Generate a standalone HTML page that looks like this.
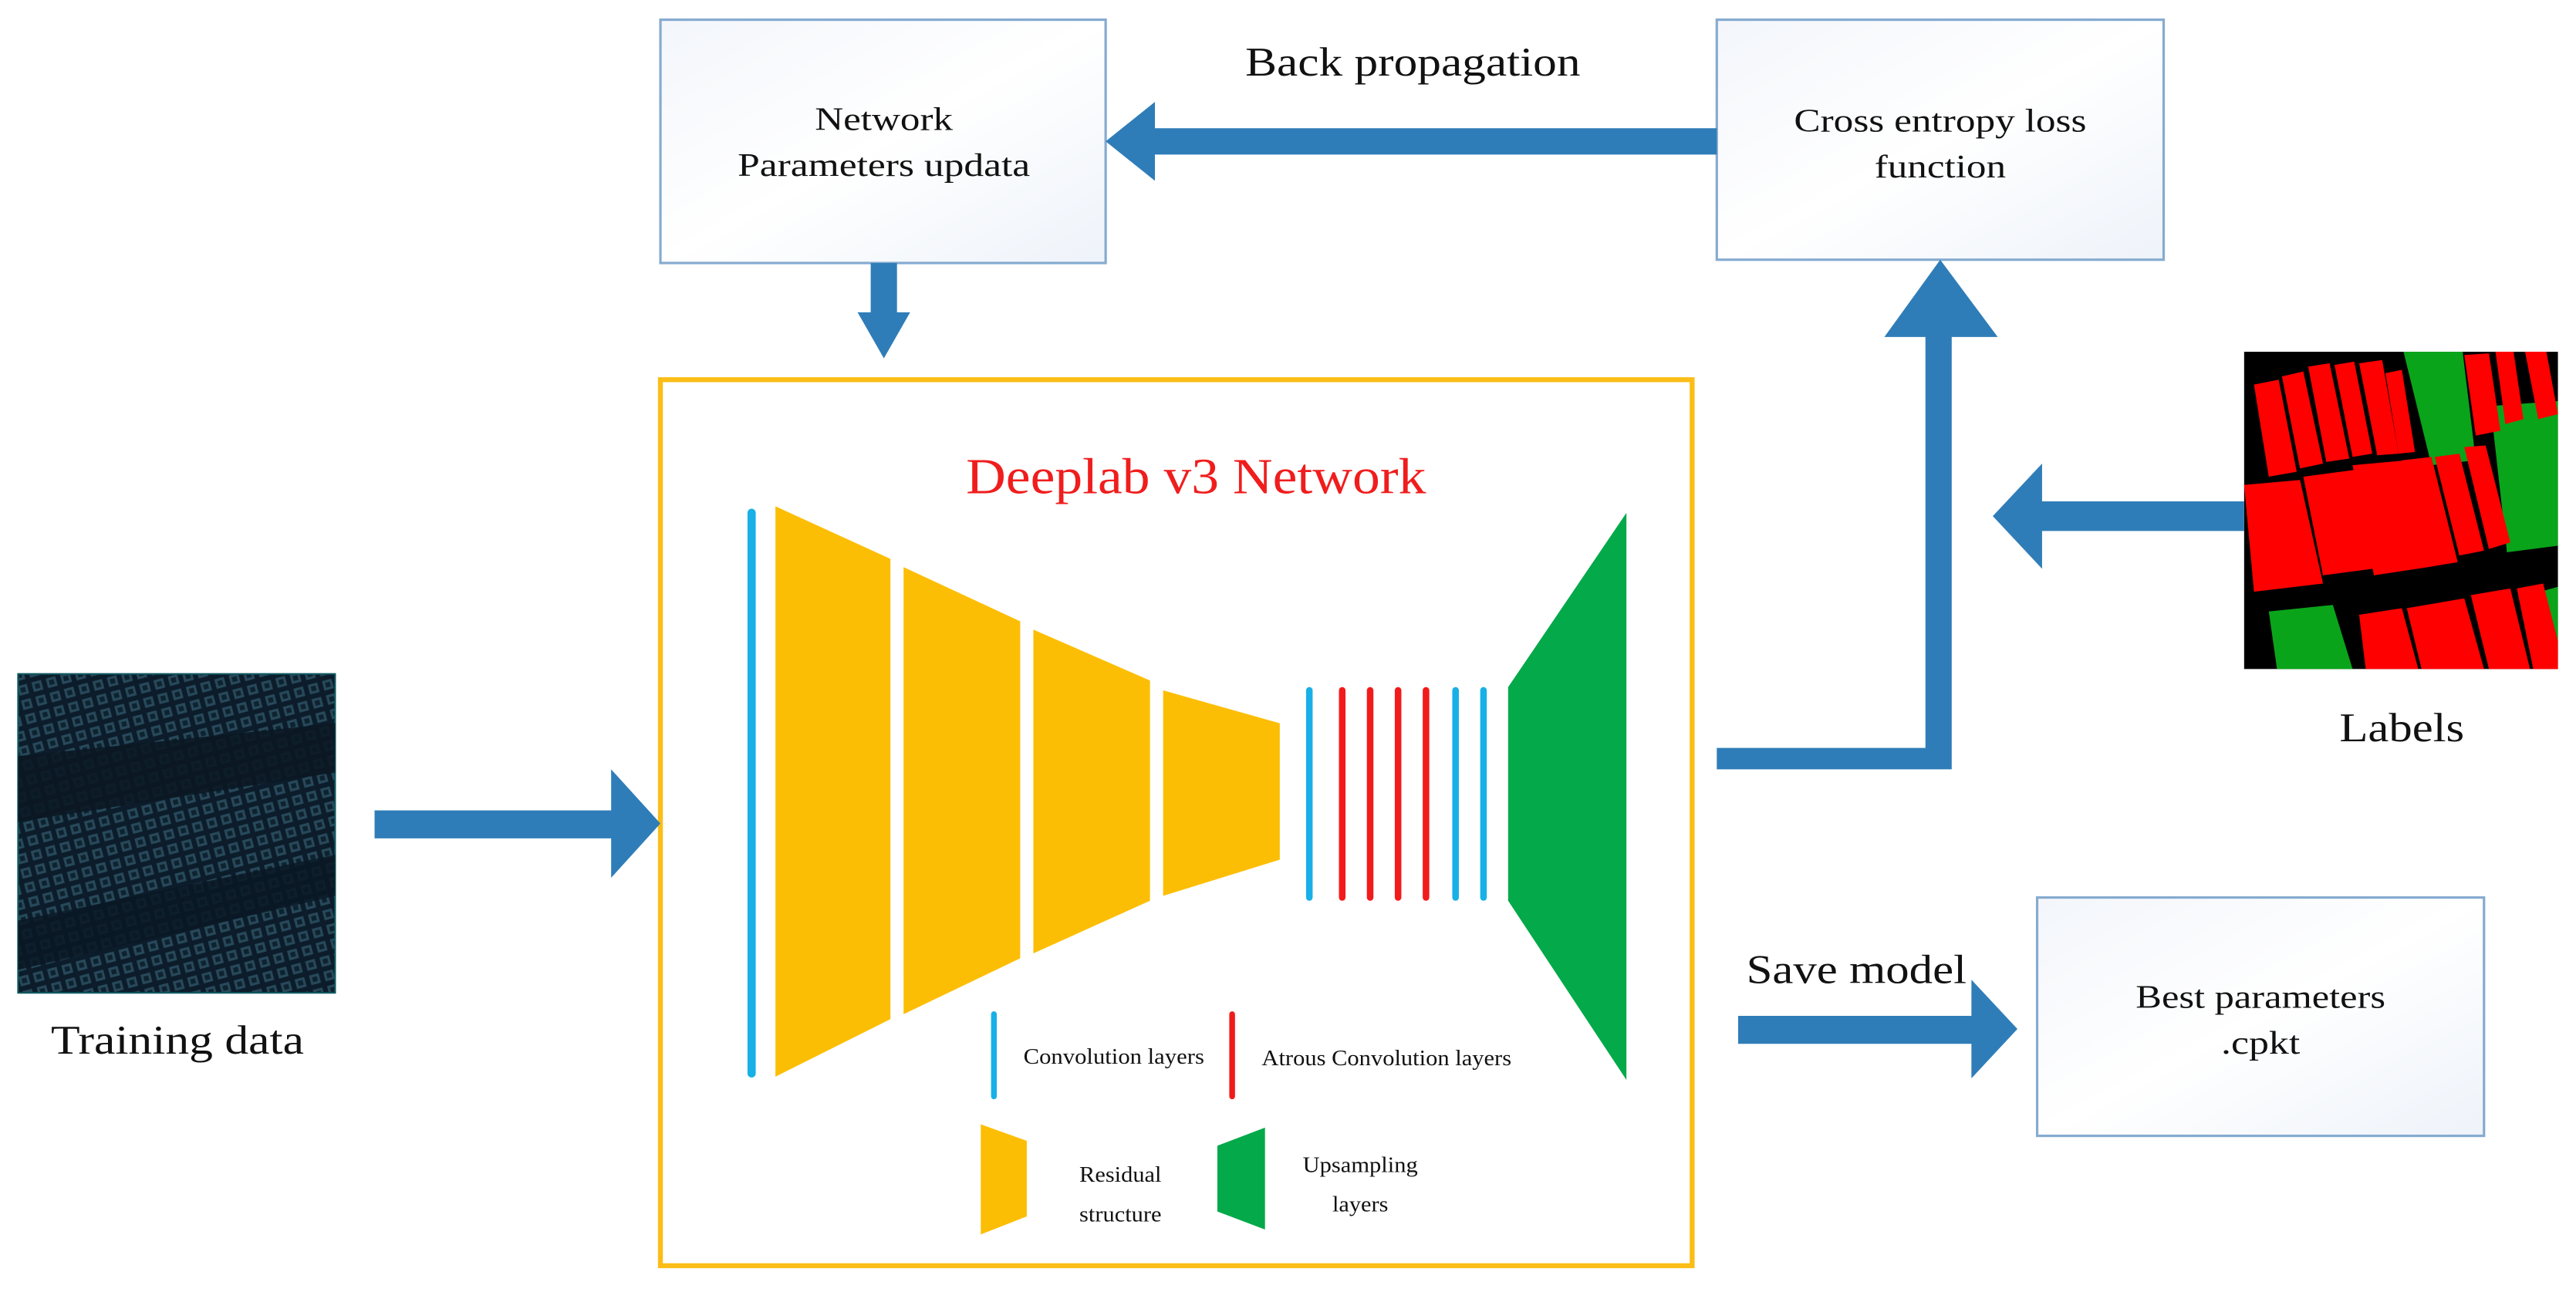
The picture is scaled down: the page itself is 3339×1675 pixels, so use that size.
<!DOCTYPE html>
<html><head><meta charset="utf-8"><style>
html,body{margin:0;padding:0;background:#fff;}
svg{display:block;}
text{font-family:"Liberation Serif",serif;fill:#111;}
</style></head><body>
<svg width="3339" height="1675" viewBox="0 0 1568 786" preserveAspectRatio="none" xmlns="http://www.w3.org/2000/svg">
<defs>
<linearGradient id="bx" x1="0" y1="0" x2="1" y2="1">
<stop offset="0" stop-color="#f3f6fb"/><stop offset="0.5" stop-color="#ffffff"/><stop offset="1" stop-color="#eef3fa"/>
</linearGradient>
<pattern id="grid" width="9" height="9" patternUnits="userSpaceOnUse" patternTransform="rotate(-15)">
<rect width="9" height="9" fill="#0c1c2a"/>
<rect x="1" y="1" width="6" height="6" fill="#27495a"/>
<rect x="2.5" y="2.5" width="3" height="3" fill="#0e2230"/>
</pattern>
</defs>

<!-- top boxes -->
<rect x="402" y="12" width="271" height="148" fill="url(#bx)" stroke="#86abd0" stroke-width="1.5"/>
<text x="538" y="79" font-size="20" text-anchor="middle" textLength="84" lengthAdjust="spacingAndGlyphs">Network</text>
<text x="538" y="107" font-size="20" text-anchor="middle" textLength="178" lengthAdjust="spacingAndGlyphs">Parameters updata</text>

<rect x="1045" y="12" width="272" height="146" fill="url(#bx)" stroke="#86abd0" stroke-width="1.5"/>
<text x="1181" y="80" font-size="20" text-anchor="middle" textLength="178" lengthAdjust="spacingAndGlyphs">Cross entropy loss</text>
<text x="1181" y="108" font-size="20" text-anchor="middle" textLength="80" lengthAdjust="spacingAndGlyphs">function</text>

<text x="860" y="46" font-size="25" text-anchor="middle" textLength="204" lengthAdjust="spacingAndGlyphs">Back propagation</text>

<!-- back propagation arrow -->
<polygon points="1045,78 703,78 703,62 673,86 703,110 703,94 1045,94" fill="#2f7db8"/>
<!-- down arrow -->
<polygon points="530,160 546,160 546,190 554,190 538,218 522,190 530,190" fill="#2f7db8"/>

<!-- main orange box -->
<rect x="402" y="231" width="628" height="539" fill="#fff" stroke="#fbbd16" stroke-width="3"/>
<text x="728" y="300" font-size="31" text-anchor="middle" fill="#f01d1d" style="fill:#f01d1d" textLength="280" lengthAdjust="spacingAndGlyphs">Deeplab v3 Network</text>

<line x1="457.5" y1="312" x2="457.5" y2="653" stroke="#18b0e6" stroke-width="5" stroke-linecap="round"/>
<polygon points="472,308 542,340 542,620 472,655" fill="#fcbe05"/>
<polygon points="550,345 621,378 621,583 550,617" fill="#fcbe05"/>
<polygon points="629,383 700,414 700,548 629,580" fill="#fcbe05"/>
<polygon points="708,420 779,440 779,523 708,545" fill="#fcbe05"/>
<g stroke-width="4" stroke-linecap="round">
<line x1="797" y1="420" x2="797" y2="546" stroke="#18b0e6"/>
<line x1="817" y1="420" x2="817" y2="546" stroke="#f21b1b"/>
<line x1="834" y1="420" x2="834" y2="546" stroke="#f21b1b"/>
<line x1="851" y1="420" x2="851" y2="546" stroke="#f21b1b"/>
<line x1="868" y1="420" x2="868" y2="546" stroke="#f21b1b"/>
<line x1="886" y1="420" x2="886" y2="546" stroke="#18b0e6"/>
<line x1="903" y1="420" x2="903" y2="546" stroke="#18b0e6"/>
</g>
<polygon points="918,418 990,312 990,657 918,548" fill="#04a94a"/>

<!-- legend -->
<line x1="605" y1="617" x2="605" y2="667" stroke="#18b0e6" stroke-width="3.5" stroke-linecap="round"/>
<text x="623" y="647" font-size="13.5" textLength="110" lengthAdjust="spacingAndGlyphs">Convolution layers</text>
<line x1="750" y1="617" x2="750" y2="667" stroke="#f21b1b" stroke-width="3.5" stroke-linecap="round"/>
<text x="768" y="648" font-size="13.5" textLength="152" lengthAdjust="spacingAndGlyphs">Atrous Convolution layers</text>
<polygon points="597,684 625,694 625,740 597,751" fill="#fcbe05"/>
<text x="682" y="719" font-size="13.5" text-anchor="middle" textLength="50" lengthAdjust="spacingAndGlyphs">Residual</text>
<text x="682" y="743" font-size="13.5" text-anchor="middle" textLength="50" lengthAdjust="spacingAndGlyphs">structure</text>
<polygon points="741,697 770,686 770,748 741,737" fill="#04a94a"/>
<text x="828" y="713" font-size="13.5" text-anchor="middle" textLength="70" lengthAdjust="spacingAndGlyphs">Upsampling</text>
<text x="828" y="737" font-size="13.5" text-anchor="middle" textLength="34" lengthAdjust="spacingAndGlyphs">layers</text>

<!-- elbow arrow to loss -->
<polygon points="1045,455 1172,455 1172,205 1147,205 1181,158 1216,205 1188,205 1188,468 1045,468" fill="#2f7db8"/>

<!-- labels image -->
<g>
<rect x="1366" y="214" width="191" height="193" fill="#000"/>
<polygon points="1463,214 1499,214 1507,280 1480,283" fill="#0aa41a"/>
<polygon points="1516,247 1557,244 1557,332 1526,336" fill="#0aa41a"/>
<polygon points="1381,372 1420,368 1432,407 1386,407" fill="#0aa41a"/>
<polygon points="1546,360 1557,357 1557,400" fill="#0aa41a"/>
<g fill="#ff0000">
<polygon points="1372,234 1387,231 1398,287 1381,290"/>
<polygon points="1389,229 1402,226 1414,282 1400,285"/>
<polygon points="1405,223 1418,221 1430,279 1416,281"/>
<polygon points="1421,222 1433,220 1444,276 1432,278"/>
<polygon points="1436,221 1450,219 1460,276 1447,277"/>
<polygon points="1452,227 1462,225 1470,275 1460,276"/>
<polygon points="1500,216 1515,215 1522,262 1507,265"/>
<polygon points="1519,214 1530,214 1536,255 1525,258"/>
<polygon points="1537,214 1550,214 1557,252 1545,255"/>
<polygon points="1366,295 1400,292 1414,355 1372,360"/>
<polygon points="1402,290 1440,285 1452,345 1414,350"/>
<polygon points="1432,283 1465,280 1478,345 1445,350"/>
<polygon points="1462,280 1480,278 1496,342 1478,345"/>
<polygon points="1482,278 1497,276 1512,335 1497,338"/>
<polygon points="1500,272 1513,271 1528,330 1515,334"/>
<polygon points="1436,374 1462,370 1472,407 1440,407"/>
<polygon points="1465,370 1500,364 1512,407 1474,407"/>
<polygon points="1504,362 1528,358 1540,407 1515,407"/>
<polygon points="1532,358 1548,355 1557,390 1557,407 1542,407"/>
</g>
</g>
<text x="1462" y="451" font-size="25" text-anchor="middle" textLength="76" lengthAdjust="spacingAndGlyphs">Labels</text>
<polygon points="1366,305 1243,305 1243,282 1213,314 1243,346 1243,323 1366,323" fill="#2f7db8"/>

<!-- training data -->
<rect x="11" y="410" width="193" height="194" fill="url(#grid)"/>
<rect x="11" y="410" width="193" height="194" fill="none" stroke="#0e5860" stroke-width="1"/>
<polygon points="11,460 204,440 204,470 11,500" fill="#0b1824" opacity="0.9"/>
<polygon points="11,560 204,520 204,545 11,590" fill="#0b1824" opacity="0.85"/>
<text x="108" y="641" font-size="25" text-anchor="middle" textLength="154" lengthAdjust="spacingAndGlyphs">Training data</text>
<polygon points="228,493 372,493 372,468 402,501 372,534 372,510 228,510" fill="#2f7db8"/>

<!-- save model -->
<text x="1130" y="598" font-size="25" text-anchor="middle" textLength="134" lengthAdjust="spacingAndGlyphs">Save model</text>
<polygon points="1058,618 1200,618 1200,596 1228,626 1200,656 1200,635 1058,635" fill="#2f7db8"/>
<rect x="1240" y="546" width="272" height="145" fill="url(#bx)" stroke="#86abd0" stroke-width="1.5"/>
<text x="1376" y="613" font-size="20" text-anchor="middle" textLength="152" lengthAdjust="spacingAndGlyphs">Best parameters</text>
<text x="1376" y="641" font-size="20" text-anchor="middle" textLength="48" lengthAdjust="spacingAndGlyphs">.cpkt</text>
</svg>
</body></html>
